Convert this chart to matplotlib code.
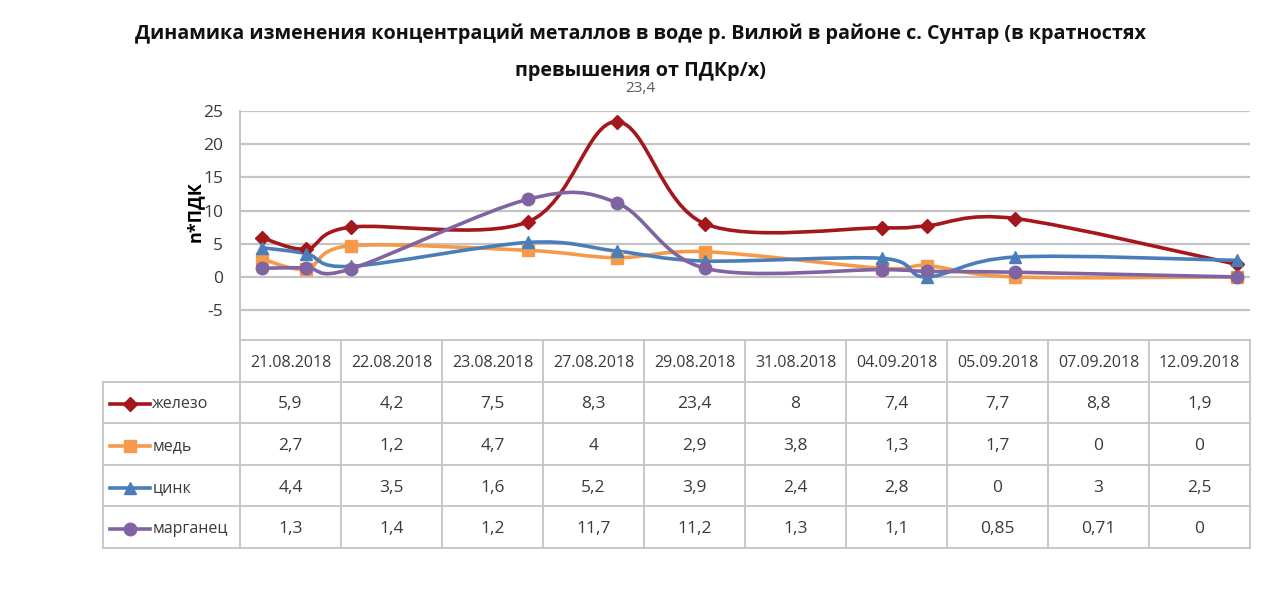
import numpy as np
import pandas as pd
import matplotlib
matplotlib.use("Agg")
import matplotlib.pyplot as plt
from matplotlib.path import Path
from matplotlib.patches import PathPatch

plt.rcParams['font.family'] = ['Open Sans', 'DejaVu Sans']
plt.rcParams['axes.unicode_minus'] = False

# Data
dates = ["21.08.2018", "22.08.2018", "23.08.2018", "27.08.2018", "29.08.2018",
         "31.08.2018", "04.09.2018", "05.09.2018", "07.09.2018", "12.09.2018"]
iron = [5.9, 4.2, 7.5, 8.3, 23.4, 8, 7.4, 7.7, 8.8, 1.9]
copper = [2.7, 1.2, 4.7, 4, 2.9, 3.8, 1.3, 1.7, 0, 0]
zinc = [4.4, 3.5, 1.6, 5.2, 3.9, 2.4, 2.8, 0, 3, 2.5]
manganese = [1.3, 1.4, 1.2, 11.7, 11.2, 1.3, 1.1, 0.85, 0.71, 0]
names = ["железо", "медь", "цинк", "марганец"]

TITLE = ("Динамика изменения концентраций металлов в воде р. Вилюй в районе с. Сунтар (в кратностях\n"
         "превышения от ПДКр/х)")

colors = ["#A3171D", "#F59A4A", "#4A7EBB", "#8064A2"]
markers = ["D", "s", "^", "o"]
msizes = [7.5, 8.5, 8.5, 9]

W, H = 1280, 589
GRID = "#C4C4C4"
TXT = "#3A3A3A"


def fx(px):
    return px / W


def fy(py):
    return 1 - py / H


def smooth_path(x, y):
    # cubic bezier through the points (Excel style smoothed line)
    pts = np.column_stack([x, y]).astype(float)
    n = len(pts)
    verts = [pts[0]]
    codes = [Path.MOVETO]
    for i in range(n - 1):
        p0 = pts[i - 1] if i > 0 else pts[i]
        p1 = pts[i]
        p2 = pts[i + 1]
        p3 = pts[i + 2] if i + 2 < n else pts[i + 1]
        verts += [p1 + (p2 - p0) / 6, p2 - (p3 - p1) / 6, p2]
        codes += [Path.CURVE4] * 3
    return Path(verts, codes)


series = [iron, copper, zinc, manganese]
d = pd.to_datetime(dates, format="%d.%m.%Y")
days = np.array((d - d[0]).days, dtype=float)

fig = plt.figure(figsize=(W / 100, H / 100), dpi=100)
fig.patch.set_facecolor("white")

# Chart area
ax = fig.add_axes([fx(240), fy(340), fx(1250) - fx(240), fy(111) - fy(340)])
ax.set_xlim(-0.5, 22.3)
ax.set_ylim(-9.5, 25)
ax.set_yticks(range(-5, 30, 5))
ax.yaxis.grid(True, color=GRID, lw=1.6)
ax.set_axisbelow(True)
ax.set_xticks([])
for s in ["top", "right", "bottom"]:
    ax.spines[s].set_visible(False)
ax.spines["left"].set_color(GRID)
ax.spines["left"].set_linewidth(1.4)
ax.tick_params(axis="y", length=0, labelsize=12.5, labelcolor=TXT, pad=12)
ax.set_ylabel("n*ПДК", fontsize=13, fontweight="bold")
ax.yaxis.set_label_coords(-0.036, 0.56)

for vals, c, m, ms in zip(series, colors, markers, msizes):
    ax.add_patch(PathPatch(smooth_path(days, vals), facecolor="none",
                           edgecolor=c, lw=2.6, zorder=3))
    ax.plot(days, vals, linestyle="none", marker=m, ms=ms, color=c, zorder=4)

imax = int(np.argmax(iron))
ax.annotate(f"{iron[imax]:g}".replace(".", ","), (days[imax], iron[imax]),
            xytext=(17, 24), textcoords="offset points", ha="center",
            va="center", fontsize=11, color="#595959", annotation_clip=False)

fig.text(0.5, fy(24), TITLE, ha="center", va="top", fontsize=14.2,
         fontweight="bold", linespacing=2.1, color="#111111")

# Data table
lab_w = 137 / 101
ncol = len(dates)
nrow = len(series)
tax = fig.add_axes([fx(103), fy(548), fx(1250) - fx(103), fy(340) - fy(548)])
tax.set_xlim(-lab_w, ncol)
tax.set_ylim(nrow + 1, 0)
tax.axis("off")

lk = dict(color=GRID, lw=1.3, clip_on=False)
# horizontal lines
tax.plot([0, ncol], [0, 0], **lk)
for r in range(1, nrow + 2):
    tax.plot([-lab_w, ncol], [r, r], **lk)
# vertical lines
tax.plot([-lab_w, -lab_w], [1, nrow + 1], **lk)
for c in range(ncol + 1):
    tax.plot([c, c], [0, nrow + 1], **lk)

for j, dt in enumerate(dates):
    tax.text(j + 0.5, 0.55, dt, ha="center", va="center", fontsize=11.5, color=TXT)

for i, (vals, name, c, m, ms) in enumerate(zip(series, names, colors, markers, msizes)):
    yc = i + 1.55
    tax.plot([-1.29, -0.89], [yc, yc], color=c, lw=2.6, clip_on=False)
    tax.plot([-1.09], [yc], marker=m, ms=ms, color=c, clip_on=False)
    tax.text(-0.87, yc, name, ha="left", va="center", fontsize=11.5, color=TXT)
    for j, v in enumerate(vals):
        tax.text(j + 0.5, yc, f"{v:g}".replace(".", ","), ha="center",
                 va="center", fontsize=12.5, color=TXT)

fig.savefig("out.png", dpi=100)
